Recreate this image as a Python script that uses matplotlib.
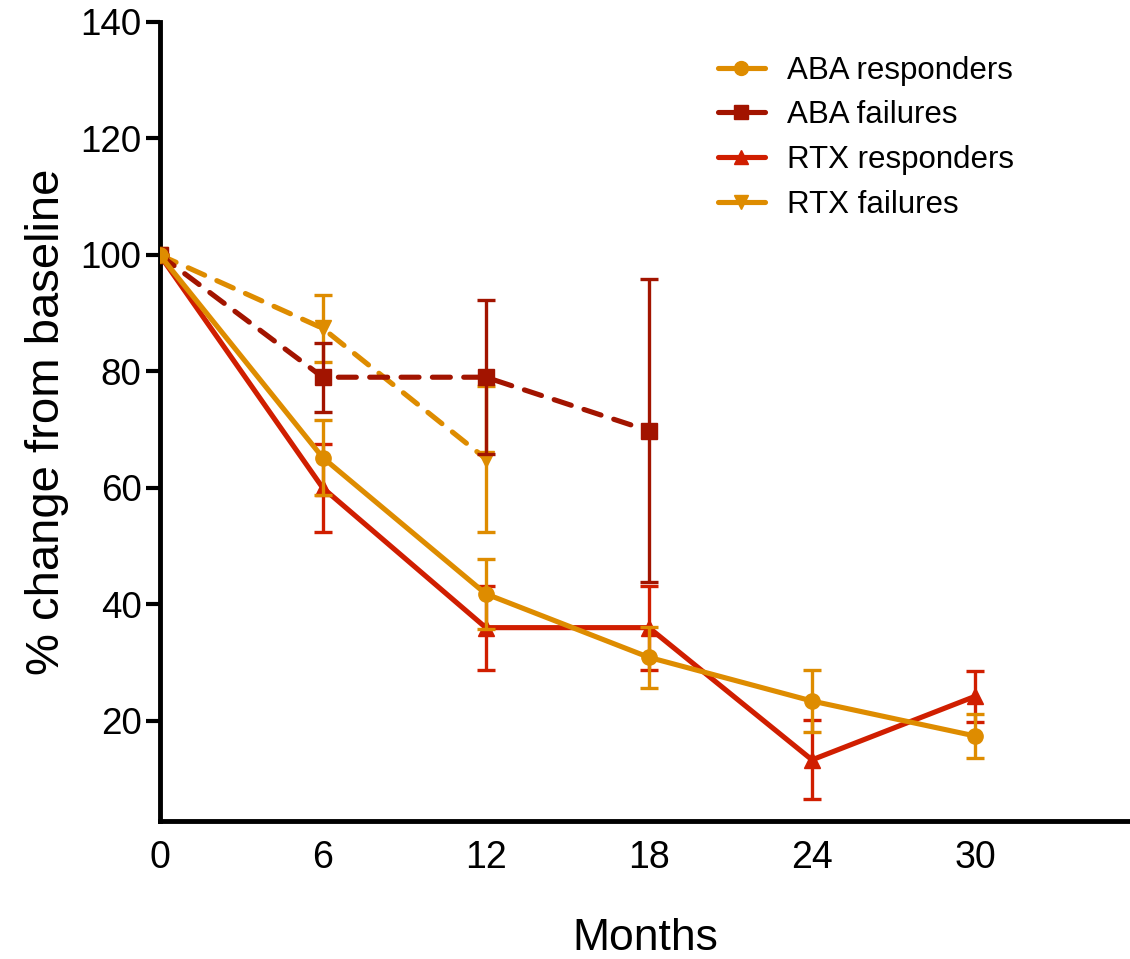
import matplotlib
matplotlib.use("Agg")
import matplotlib.pyplot as plt
from matplotlib.lines import Line2D

plt.rcParams['font.family'] = ['Liberation Sans', 'DejaVu Sans']

# Months of follow-up for each group
months_aba_resp = [0, 6, 12, 18, 24, 30]
months_aba_fail = [0, 6, 12, 18]
months_rtx_resp = [0, 6, 12, 18, 24, 30]
months_rtx_fail = [0, 6, 12]

# Mean % change from baseline and error (SEM)
aba_resp = [100, 65.2, 41.8, 30.9, 23.4, 17.4]
aba_resp_err = [0, 6.5, 6.0, 5.2, 5.4, 3.7]

aba_fail = [100, 79.0, 79.0, 69.8]
aba_fail_err = [0, 5.9, 13.2, 26.0]

rtx_resp = [100, 60.0, 36.0, 36.0, 13.3, 24.2]
rtx_resp_err = [0, 7.5, 7.2, 7.2, 6.8, 4.4]

rtx_fail = [100, 87.4, 65.0]
rtx_fail_err = [0, 5.8, 12.5]

x_ticks = [0, 6, 12, 18, 24, 30]
y_ticks = [20, 40, 60, 80, 100, 120, 140]
series_labels = ['ABA responders', 'ABA failures', 'RTX responders', 'RTX failures']

c_orange = '#DE8C00'
c_darkred = '#A21400'
c_red = '#D01E00'

fig = plt.figure(figsize=(11.3, 9.59), dpi=100)
ax = fig.add_axes([0.1413, 0.1439, 0.8587, 0.8332])

lw = 3.7
dash = (0, (3.5, 2.6))
common = dict(elinewidth=2.4, capsize=6.5, capthick=2.4, linewidth=lw,
              solid_capstyle='round', dash_capstyle='round')

ax.errorbar(months_rtx_fail, rtx_fail, yerr=rtx_fail_err, color=c_orange,
            marker='v', markersize=11, linestyle=dash, zorder=3, **common)
ax.errorbar(months_rtx_resp, rtx_resp, yerr=rtx_resp_err, color=c_red,
            marker='^', markersize=11, linestyle='-', zorder=4, **common)
ax.errorbar(months_aba_fail, aba_fail, yerr=aba_fail_err, color=c_darkred,
            marker='s', markersize=11, linestyle=dash, zorder=5, **common)
ax.errorbar(months_aba_resp, aba_resp, yerr=aba_resp_err, color=c_orange,
            marker='o', markersize=11, linestyle='-', zorder=6, **common)

ax.set_xlim(0, 35.7)
ax.set_ylim(2.8, 140)
ax.set_xticks(x_ticks)
ax.set_yticks(y_ticks)
ax.set_xticklabels([str(v) for v in x_ticks])
ax.set_yticklabels([str(v) for v in y_ticks])

for side in ['top', 'right']:
    ax.spines[side].set_visible(False)
for side in ['left', 'bottom']:
    ax.spines[side].set_linewidth(3.5)

ax.tick_params(axis='x', length=0, pad=14, labelsize=27)
ax.tick_params(axis='y', length=10, width=3, pad=3, labelsize=26.5)

ax.set_xlabel('Months', fontsize=32, labelpad=30)
ax.set_ylabel('% change from baseline', fontsize=34, labelpad=8)

# Legend: line + marker only
legend_handles = [
    Line2D([], [], color=c_orange, marker='o', markersize=10, linewidth=lw,
           solid_capstyle='round'),
    Line2D([], [], color=c_darkred, marker='s', markersize=10, linewidth=lw,
           solid_capstyle='round'),
    Line2D([], [], color=c_red, marker='^', markersize=10, linewidth=lw,
           solid_capstyle='round'),
    Line2D([], [], color=c_orange, marker='v', markersize=10, linewidth=lw,
           solid_capstyle='round'),
]
ax.legend(legend_handles, series_labels, loc='upper left',
          bbox_to_anchor=(0.5754, 0.958), frameon=False, fontsize=22.5,
          handlelength=1.5, handletextpad=0.72, labelspacing=0.47,
          borderpad=0, borderaxespad=0)

fig.savefig('out.png', dpi=100)
